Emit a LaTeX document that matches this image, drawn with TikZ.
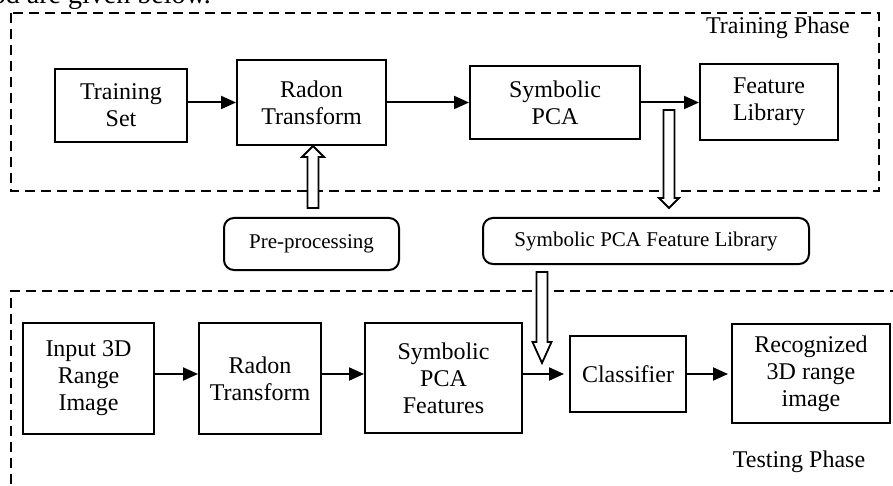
\documentclass[tikz,border=0pt]{standalone}
\usepackage{fontspec}
\setmainfont{Liberation Serif}
\usetikzlibrary{arrows.meta,calc}

% hollow block arrow: base, tip, head length, half head width
\newcommand{\hollowarrow}[4]{%
  \draw[hollow] let \p1=(#1), \p2=(#2), \n1={(\y2-\y1)/abs(\y2-\y1)} in
    ({\x1-2.75pt},\y1) -- ({\x1-2.75pt},{\y2-\n1*#3}) -- ({\x1-#4},{\y2-\n1*#3})
    -- (\x1,\y2) -- ({\x1+#4},{\y2-\n1*#3}) -- ({\x1+2.75pt},{\y2-\n1*#3})
    -- ({\x1+2.75pt},\y1) -- cycle;}

\begin{document}
\begin{tikzpicture}[x=0.5pt,y=-0.5pt,
  box/.style={draw,line width=1pt,align=center,inner sep=0pt,
    font=\fontsize{12}{13.5}\selectfont},
  rbox/.style={draw,line width=1pt,rounded corners=5pt,inner sep=0pt,
    font=\fontsize{10.5}{12}\selectfont},
  conn/.style={line width=1pt,-{Triangle[length=7.5pt,width=6.5pt]}},
  frame/.style={line width=0.75pt,dash pattern=on 5pt off 3pt},
  hollow/.style={line width=0.9pt,fill=white}]
  \useasboundingbox (0,0) rectangle (893,486);
  \node[anchor=base east,font=\fontsize{14}{16}\selectfont] (txt) at (218,4) {method are given below.};

  % training phase
  \draw[frame] (11,13) rectangle (879,191);
  \node[anchor=base,font=\fontsize{12}{13.5}\selectfont] (trp) at (778,34) {Training Phase};
  \node[box,minimum width=66pt,minimum height=36.5pt] (ts) at (121,105.5) {Training\\Set};
  \node[box,minimum width=74.5pt,minimum height=42.5pt] (rt) at (311.5,102.5) {Radon\\Transform};
  \node[box,minimum width=85pt,minimum height=36.5pt] (sp) at (555,102.5) {Symbolic\\PCA};
  \node[box,minimum width=69pt,minimum height=38pt] (fl) at (769,102) {Feature\\Library};
  \draw[conn] (ts.east |- rt.west) -- (rt.west);
  \draw[conn] (rt.east) -- (sp.west);
  \draw[conn] (sp.east) -- (fl.west |- sp.east);

  \node[rbox,minimum width=87.5pt,minimum height=26pt] (pp) at (311.5,244) {Pre-processing};
  \node[rbox,minimum width=163pt,minimum height=23pt] (sfl) at (646,241) {Symbolic PCA Feature Library};
  \coordinate (ppb) at (313,208);
  \coordinate (spb) at (669,110);
  \coordinate (spt) at (669,208);
  \hollowarrow{ppb}{rt.south -| ppb}{5.5pt}{5.5pt}
  \hollowarrow{spb}{spt}{5pt}{5pt}

  % testing phase
  \draw[frame] (900,291) -- (11,291) -- (11,500);
  \node[anchor=base,font=\fontsize{12}{13.5}\selectfont] (tep) at (799,467) {Testing Phase};
  \node[box,minimum width=65.5pt,minimum height=55.5pt] (in) at (88.5,378.5) {Input 3D\\Range\\Image};
  \node[box,minimum width=61pt,minimum height=55.5pt] (rt2) at (260,378.5) {Radon\\Transform};
  \node[box,minimum width=78.5pt,minimum height=55pt] (spf) at (443.5,378) {Symbolic\\PCA\\Features};
  \node[box,minimum width=58pt,minimum height=38pt] (cl) at (628,374) {Classifier};
  \node[box,minimum width=79pt,minimum height=49.5pt] (rec) at (811,373.5) {Recognized\\3D range\\image};
  \draw[conn] (in.east |- cl.west) -- (rt2.west |- cl.west);
  \draw[conn] (rt2.east |- cl.west) -- (spf.west |- cl.west);
  \draw[conn,shorten >=2.5pt] (spf.east |- cl.west) -- (cl.west);
  \draw[conn,shorten >=1.5pt] (cl.east) -- (rec.west |- cl.east);
  \coordinate (sfb) at (542,272);
  \coordinate (sft) at (542,363);
  \hollowarrow{sfb}{sft}{10.5pt}{4.75pt}
\end{tikzpicture}
\end{document}
